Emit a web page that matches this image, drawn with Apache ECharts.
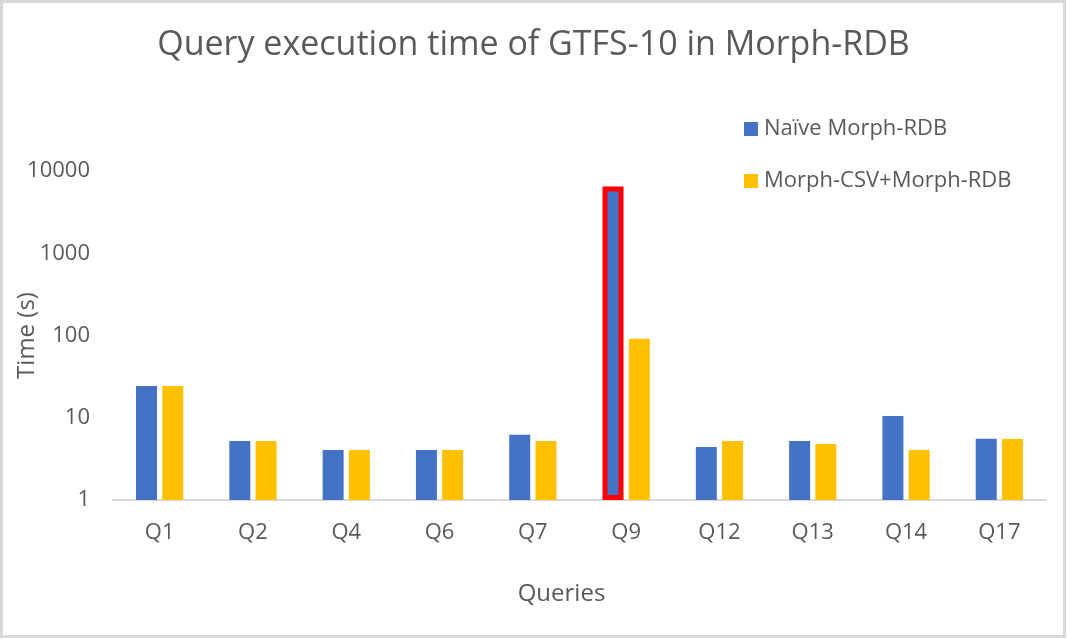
<!DOCTYPE html>
<html>
<head>
<meta charset="utf-8">
<script src="https://cdn.jsdelivr.net/npm/echarts@6/dist/echarts.min.js"></script>
<style>
  html, body { margin: 0; padding: 0; background: #fff; }
  #chart { width: 1067px; height: 639px; }
</style>
</head>
<body>
<div id="chart"></div>
<script>
// values (seconds, log scale)
var queries = ['Q1', 'Q2', 'Q4', 'Q6', 'Q7', 'Q9', 'Q12', 'Q13', 'Q14', 'Q17'];
var naive_times = [24.3, 5.2, 4.05, 4.05, 6.2, 6500, 4.4, 5.2, 10.5, 5.57];
var csv_times = [24.3, 5.2, 4.05, 4.05, 5.2, 91, 5.2, 4.8, 4.05, 5.5];
var series_names = ['Naïve Morph-RDB', 'Morph-CSV+Morph-RDB'];
var highlight_query = 'Q9';

var grey = '#595959'
    , font = 'Open Sans';

var myChart = echarts.init(document.getElementById('chart'));

var naive_data = naive_times.map(function (v, i) {
    if (queries[i] === highlight_query) {
        return { value: v, itemStyle: { borderColor: '#FF0000', borderWidth: 5 } };
    }
    return v;
});

var option = {
    backgroundColor: '#fff',
    textStyle: { fontFamily: font },
    title: {
        text: 'Query execution time of GTFS-10 in Morph-RDB',
        left: 'center',
        top: 23,
        textStyle: { fontFamily: font, fontSize: 34, fontWeight: 'normal', color: grey }
    },
    legend: {
        orient: 'vertical',
        left: 744,
        top: 118,
        padding: 0,
        itemWidth: 14,
        itemHeight: 14,
        itemGap: 30,
        icon: 'rect',
        textStyle: { fontFamily: font, fontSize: 22, color: grey, lineHeight: 22, padding: [0, 0, 0, 1] },
        data: series_names
    },
    grid: { left: 113, right: 21, top: 171, bottom: 139, outerBoundsMode: 'none', containLabel: false },
    xAxis: {
        type: 'category',
        data: queries,
        axisLine: { lineStyle: { color: '#d9d9d9', width: 2 } },
        axisTick: { show: false },
        axisLabel: { fontFamily: font, fontSize: 22, color: grey, margin: 22 },
        name: 'Queries',
        nameLocation: 'middle',
        nameGap: 82,
        nameMoveOverlap: false,
        nameTextStyle: { fontFamily: font, fontSize: 24, color: grey, padding: [0, 36, 0, 0] }
    },
    yAxis: {
        type: 'log',
        logBase: 10,
        min: 1,
        max: 10000,
        splitLine: { show: false },
        axisLine: { show: false },
        axisTick: { show: false },
        axisLabel: {
            fontFamily: font, fontSize: 22, color: grey, margin: 23,
            formatter: function (v) { return String(v); }
        },
        name: 'Time (s)',
        nameLocation: 'middle',
        nameGap: 74,
        nameMoveOverlap: false,
        nameTextStyle: { fontFamily: font, fontSize: 24, color: grey }
    },
    series: [
        {
            name: series_names[0],
            type: 'bar',
            barWidth: 21,
            barGap: '25%',
            itemStyle: { color: '#4472C4' },
            data: naive_data
        },
        {
            name: series_names[1],
            type: 'bar',
            barWidth: 21,
            itemStyle: { color: '#FFC000' },
            data: csv_times
        }
    ],
    graphic: [{
        type: 'rect',
        shape: { x: 1.5, y: 1.5, width: 1063, height: 635 },
        style: { fill: null, stroke: '#d9d9d9', lineWidth: 3 },
        silent: true
    }]
};

myChart.setOption(option);
</script>
</body>
</html>
